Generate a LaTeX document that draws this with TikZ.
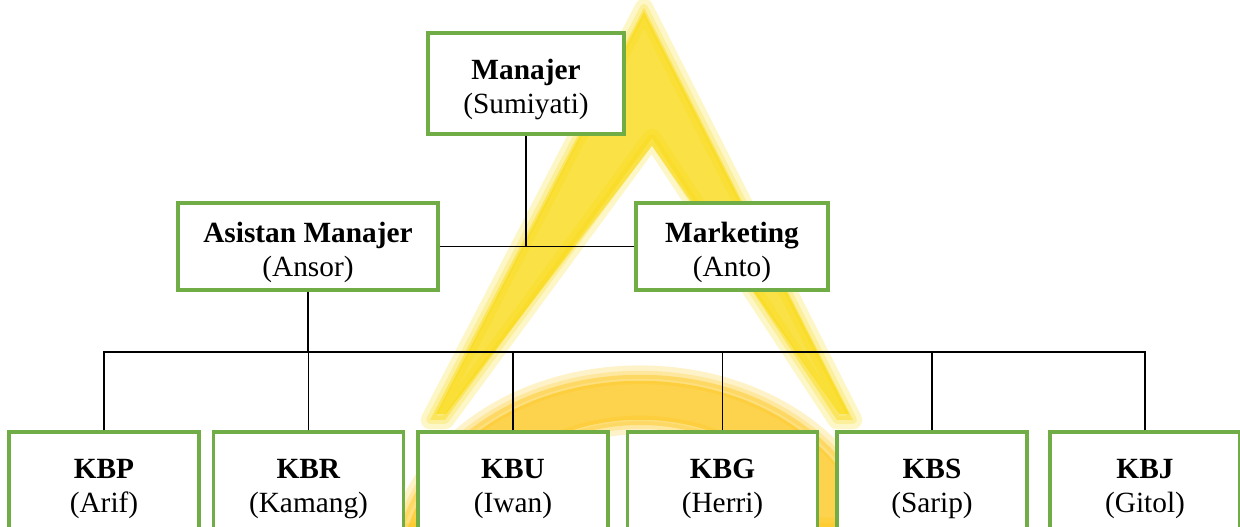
\documentclass[tikz,border=0pt]{standalone}
\usepackage{fontspec}
\setmainfont{Liberation Serif}
\definecolor{boxgreen}{RGB}{112,173,71}
\definecolor{logoyellow}{RGB}{248,214,0}
\definecolor{logoorange}{RGB}{252,194,10}
\newcommand{\toppad}{\rule{0pt}{24pt}}

\begin{document}
\begin{tikzpicture}[x=0.75pt,y=-0.75pt,
    box/.style={draw=boxgreen, line width=2.4pt, fill=white, align=center, inner sep=0pt,
        font=\fontsize{22}{25.5}\selectfont},
    unit/.style={box, minimum width=142.5pt, minimum height=76.5pt},
    link/.style={black, line width=1pt},
    halo/.style={line join=round, opacity=0.22, line width=#1},
    halo/.default=14pt]
    \useasboundingbox (0,0) rectangle (1240,527);
    \clip (0,0) rectangle (1240,527);
    \path[draw=logoyellow, fill=logoyellow, halo] (644,8) -- (430,420) -- (445,420) -- (652,138)
        -- (837,420) -- (853,420) -- cycle;
    \path[draw=logoyellow, fill=logoyellow, halo=6pt] (644,8) -- (430,420) -- (445,420) -- (652,138)
        -- (837,420) -- (853,420) -- cycle;
    \fill[logoyellow, opacity=0.55] (644,12) -- (436,414) -- (446,414) -- (652,146)
        -- (839,414) -- (849,414) -- cycle;
    \path[draw=logoorange, fill=logoorange, halo] (400,527) .. controls (470,324) and (810,324) .. (880,527)
        -- (810,527) .. controls (750,391) and (530,391) .. (470,527) -- cycle;
    \path[draw=logoorange, fill=logoorange, halo=6pt] (400,527) .. controls (470,324) and (810,324) .. (880,527)
        -- (810,527) .. controls (750,391) and (530,391) .. (470,527) -- cycle;
    \fill[logoorange, opacity=0.55] (408,527) .. controls (476,332) and (804,332) .. (872,527)
        -- (818,527) .. controls (756,384) and (524,384) .. (462,527) -- cycle;
    \node[box, minimum width=147pt, minimum height=75.75pt] (mgr) at (526,83.5) {\toppad\textbf{Manajer}\\(Sumiyati)};
    \node[box, minimum width=195pt, minimum height=65.25pt] (asst) at (308,246.5) {\toppad\textbf{Asistan Manajer}\\(Ansor)};
    \node[box, minimum width=144pt, minimum height=65.25pt] (mkt) at (732,246.5) {\toppad\textbf{Marketing}\\(Anto)};
    \foreach \n/\x/\kode/\nama in {kbp/104/KBP/Arif, kbr/308.5/KBR/Kamang, kbu/513/KBU/Iwan,
        kbg/722.5/KBG/Herri, kbs/932/KBS/Sarip, kbj/1145/KBJ/Gitol}
        \node[unit] (\n) at (\x,483) {\toppad\textbf{\kode}\\(\nama)};
    \coordinate (bus) at (0,352);
    \draw[link] (mgr) -- (mgr |- asst.east);
    \draw[link] (asst) -- (mkt);
    \draw[link] (asst) -- (asst |- bus);
    \draw[link] (kbp) |- (kbj |- bus) -- (kbj);
    \foreach \n in {kbr,kbu,kbg,kbs}
        \draw[link] (\n) -- (\n |- bus);
\end{tikzpicture}
\end{document}
